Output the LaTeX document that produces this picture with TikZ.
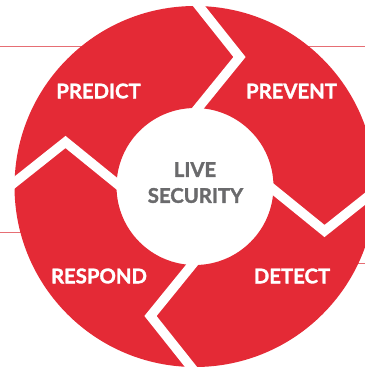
\documentclass[tikz,border=0pt]{standalone}
\usepackage{fontspec}
\setmainfont{Lato}[BoldFeatures={FakeBold=1.6}]
\definecolor{ringred}{RGB}{228,42,54}
\definecolor{thinred}{RGB}{230,110,116}
\definecolor{centergray}{RGB}{106,106,108}
\begin{document}
\begin{tikzpicture}[x=1pt,y=-1pt,
  thinline/.style={draw=thinred,line width=1.1pt},
  gapline/.style={draw=white,line width=9.5pt,line join=miter,miter limit=10},
  seglabel/.style={text=white,font=\fontsize{20.3}{21}\selectfont\bfseries,inner sep=0pt,anchor=center},
  centerlabel/.style={text=centergray,font=\fontsize{20.3}{21}\selectfont\bfseries,inner sep=0pt,anchor=center}]
\useasboundingbox (0,0) rectangle (365,368);
% thin background lines
\coordinate (tl) at (0,46.7);
\coordinate (tr) at (365,46.7);
\coordinate (ll) at (0,232.3);
\coordinate (lr) at (40,232.3);
\coordinate (rl) at (330,263.3);
\coordinate (rr) at (365,263.3);
\draw[thinline] (tl) -- (tr);
\draw[thinline] (ll) -- (lr);
\draw[thinline] (rl) -- (rr);
% ring
\coordinate (c) at (195,186.5);
\fill[ringred,even odd rule] (c) circle[radius=180.5] (c) circle[radius=78.5];
% gaps
\foreach \a in {0,-90,-180,-270}{
  \begin{scope}[shift={(c)},rotate=\a]
    \draw[gapline] (-2,-188) -- (44.5,-129.5) -- (-3,-71);
  \end{scope}
}
% labels
\node[seglabel] (predict) at (98.5,91) {PREDICT};
\node[seglabel] (prevent) at (291.5,91) {PREVENT};
\node[seglabel] (respond) at (99,276) {RESPOND};
\node[seglabel] (detect) at (292,276) {DETECT};
\node[centerlabel] (live) at (195,169.5) {LIVE};
\node[centerlabel] (security) at (195.5,195.5) {SECURITY};
\end{tikzpicture}
\end{document}
